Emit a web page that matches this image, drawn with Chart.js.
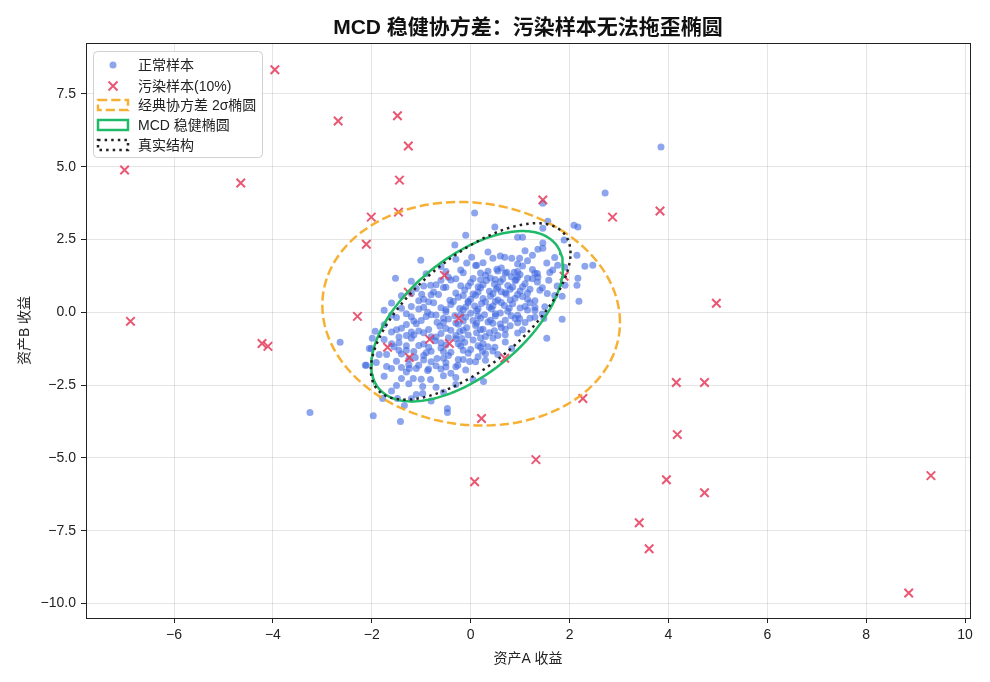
<!DOCTYPE html>
<html lang="zh">
<head>
  <meta charset="UTF-8" />
  <title>MCD 稳健协方差</title>
  <script src="https://cdn.jsdelivr.net/npm/chart.js"></script>
  <style>
    body { margin: 0; background: #fff; }
    #wrap { width: 990px; height: 682px; }
  </style>
</head>
<body>
  <div id="wrap"><canvas id="miCanvas" width="990" height="682"></canvas></div>

  <script>
    // tick labels
    const xTicks = [-6, -4, -2, 0, 2, 4, 6, 8, 10];
    const yTicks = [-10, -7.5, -5, -2.5, 0, 2.5, 5, 7.5];

    const seriesNames = ['正常样本', '污染样本(10%)', '经典协方差 2σ椭圆', 'MCD 稳健椭圆', '真实结构'];

    // normal samples [x, y]
    const normalPts = [
      [3.85, 5.68], [2.72, 4.1], [-3.25, -3.44], [-2.64, -1.03], [-2.05, -1.24], [-2.13, -1.82],
      [-1.01, 1.79], [-1.52, 1.17], [-0.81, 0.93], [-0.99, 0.62], [-0.87, 0.0],
      [0.08, 3.41], [0.49, 2.93], [-0.1, 2.65], [-0.32, 2.31], [0.95, 2.58], [1.05, 2.58],
      [0.69, 1.89], [0.83, 1.86], [0.99, 1.86], [0.02, 1.89], [-0.08, 1.69], [0.12, 1.62], [0.53, 1.48], [0.73, 1.38], [0.95, 1.2],
      [1.46, 3.75], [1.56, 3.13], [1.46, 2.89], [2.09, 2.99], [2.17, 2.93], [1.89, 2.48], [1.46, 2.38], [1.36, 2.17], [1.46, 2.2],
      [2.15, 1.96], [1.54, 1.69], [1.76, 1.62], [2.31, 1.58], [2.47, 1.62], [1.66, 1.45], [1.3, 1.34], [1.36, 1.2], [2.17, 1.17],
      [1.58, 1.1], [1.91, 0.93], [2.15, 0.93], [1.4, 0.76], [1.85, 0.55], [2.19, 0.38], [1.3, 0.17],
      [-1.93, -0.65], [-1.99, -0.89], [-2.01, -1.24], [-2.11, -1.82], [-1.91, -1.72], [-1.7, -1.86], [-1.85, -1.45], [-1.7, -1.45],
      [-1.4, -2.27], [-1.5, -2.51], [-1.16, -2.27], [-0.97, -2.55], [-0.81, -2.31], [-0.87, -2.0], [-1.24, -1.93], [-1.1, -1.93],
      [-1.78, -2.96], [-1.48, -2.96], [-1.34, -3.2], [-1.97, -3.55], [-1.42, -3.75], [-0.97, -2.79],
      [0.26, -2.38], [-0.47, -3.3], [-0.47, -3.44], [-0.02, -1.69], [-0.26, -1.82], [-0.3, -2.24], [0.24, -1.34], [0.49, -1.2],
      [0.83, -1.24], [0.99, -0.21], [1.48, -0.21], [1.85, -0.24], [1.54, -0.89],
      [0.35, 2.07], [0.6, 1.93], [1.1, 2.11], [1.25, 1.96],
      [-0.3, 1.82], [0.25, 1.7], [0.45, 1.86], [0.95, 1.66], [1.15, 1.77], [1.7, 1.88],
      [-0.6, 1.57], [-0.2, 1.45], [0.1, 1.61], [0.35, 1.41], [0.62, 1.52], [0.88, 1.38], [1.05, 1.59], [1.25, 1.47], [1.9, 1.55],
      [-0.9, 1.32], [-0.45, 1.2], [-0.15, 1.36], [0.05, 1.16], [0.3, 1.27], [0.5, 1.13], [0.7, 1.34], [0.82, 1.22], [1.0, 1.3], [1.15, 1.17], [1.6, 1.37],
      [-1.2, 1.07], [-0.7, 0.95], [-0.4, 1.11], [-0.2, 0.91], [0.0, 1.02], [0.15, 0.88], [0.32, 1.09], [0.48, 0.97], [0.6, 1.05],
      [0.75, 0.92], [0.92, 1.12], [1.1, 0.98], [1.35, 1.04], [1.75, 0.9],
      [-1.1, 0.82], [-0.75, 0.7], [-0.5, 0.86], [-0.3, 0.66], [-0.12, 0.77], [0.05, 0.63], [0.2, 0.84], [0.38, 0.72], [0.52, 0.8],
      [0.7, 0.67], [0.85, 0.87], [1.0, 0.73], [1.2, 0.79], [1.55, 0.65],
      [-1.4, 0.57], [-0.95, 0.45], [-0.65, 0.61], [-0.42, 0.41], [-0.25, 0.52], [-0.05, 0.38], [0.1, 0.59], [0.25, 0.47], [0.4, 0.55],
      [0.55, 0.42], [0.72, 0.62], [0.9, 0.48], [1.05, 0.54], [1.3, 0.4], [1.7, 0.58],
      [-1.6, 0.32], [-1.2, 0.2], [-0.85, 0.36], [-0.6, 0.16], [-0.4, 0.27], [-0.22, 0.13], [-0.05, 0.34], [0.08, 0.22], [0.22, 0.3],
      [0.38, 0.17], [0.5, 0.37], [0.68, 0.23], [0.85, 0.29], [1.0, 0.15], [1.2, 0.33], [1.5, 0.19],
      [-1.75, 0.07], [-1.3, -0.05], [-1.05, 0.11], [-0.7, -0.09], [-0.5, 0.02], [-0.32, -0.12], [-0.15, 0.09], [0.0, -0.03],
      [0.12, 0.05], [0.28, -0.08], [0.42, 0.12], [0.6, -0.02], [0.75, 0.04], [0.95, -0.1], [1.15, 0.08], [1.45, -0.06],
      [-1.5, -0.18], [-1.15, -0.3], [-0.9, -0.14], [-0.68, -0.34], [-0.45, -0.23], [-0.3, -0.37], [-0.1, -0.16], [0.05, -0.28],
      [0.2, -0.2], [0.35, -0.33], [0.5, -0.13], [0.7, -0.27], [0.9, -0.21], [1.1, -0.35], [1.3, -0.17],
      [-1.75, -0.43], [-1.4, -0.55], [-1.1, -0.39], [-0.85, -0.59], [-0.62, -0.48], [-0.4, -0.62], [-0.25, -0.41], [-0.08, -0.53],
      [0.1, -0.45], [0.25, -0.58], [0.45, -0.38], [0.62, -0.52], [0.8, -0.46], [1.05, -0.6],
      [-1.6, -0.68], [-1.3, -0.8], [-1.05, -0.64], [-0.8, -0.84], [-0.6, -0.73], [-0.45, -0.87], [-0.22, -0.66], [-0.05, -0.78],
      [0.12, -0.7], [0.3, -0.83], [0.48, -0.63], [0.7, -0.77], [0.95, -0.71],
      [-1.75, -0.93], [-1.45, -1.05], [-1.2, -0.89], [-0.95, -1.09], [-0.72, -0.98], [-0.5, -1.12], [-0.3, -0.91], [-0.12, -1.03],
      [0.05, -0.95], [0.25, -1.08], [0.45, -0.88], [0.7, -1.02],
      [-1.55, -1.18], [-1.3, -1.3], [-1.05, -1.14], [-0.8, -1.34], [-0.6, -1.23], [-0.4, -1.37], [-0.2, -1.16], [0.0, -1.28],
      [0.2, -1.2], [0.45, -1.33],
      [-1.4, -1.43], [-1.12, -1.55], [-0.9, -1.39], [-0.68, -1.59], [-0.45, -1.48], [-0.25, -1.62], [-0.05, -1.41], [0.15, -1.53], [0.55, -1.45],
      [-1.5, -1.68], [-1.25, -1.8], [-0.95, -1.64], [-0.7, -1.84], [-0.5, -1.73], [-0.3, -1.87], [0.1, -1.7],
      [-1.6, -1.93], [-1.3, -2.05], [-0.6, -1.95], [-0.4, -2.09], [-0.1, -1.98],
      [-1.75, -2.2], [-1.0, -2.3], [-0.55, -2.18], [0.05, -2.32],
      [-1.25, -2.45], [-0.7, -2.57], [-0.3, -2.48],
      [-1.6, -2.7], [-1.1, -2.82], [-0.55, -2.75],
      [-1.2, -2.97], [-0.8, -3.05],
      // denser core
      [-0.5, 1.4], [0.2, 1.35], [0.55, 1.42], [0.95, 1.4], [1.35, 1.33],
      [-0.6, 1.1], [-0.3, 1.15], [0.2, 1.12], [0.4, 1.18], [0.65, 1.14], [0.9, 1.08], [1.25, 1.15],
      [-0.95, 0.9], [-0.55, 0.85], [-0.05, 0.9], [0.25, 0.95], [0.55, 0.86], [0.8, 0.79], [1.05, 0.88], [1.45, 0.84],
      [-1.2, 0.65], [-0.8, 0.6], [-0.15, 0.58], [0.15, 0.7], [0.45, 0.64], [0.62, 0.71], [0.95, 0.61], [1.15, 0.66],
      [-1.05, 0.4], [-0.75, 0.33], [-0.35, 0.37], [0.0, 0.45], [0.3, 0.36], [0.62, 0.34], [0.8, 0.42], [1.15, 0.45],
      [-1.4, 0.14], [-0.95, 0.17], [-0.5, 0.1], [-0.1, 0.18], [0.15, 0.11], [0.45, 0.22], [0.78, 0.14], [1.1, 0.2], [1.3, 0.06],
      [-1.6, -0.1], [-1.2, -0.15], [-0.8, -0.08], [-0.55, -0.2], [-0.2, -0.08], [0.15, -0.13], [0.5, -0.05], [0.82, -0.12], [1.2, -0.2],
      [-1.3, -0.42], [-1.0, -0.28], [-0.55, -0.35], [-0.15, -0.3], [0.12, -0.38], [0.4, -0.27], [0.6, -0.4], [0.95, -0.36],
      [-1.5, -0.6], [-1.2, -0.68], [-0.95, -0.7], [-0.5, -0.56], [-0.15, -0.62], [0.2, -0.6], [0.38, -0.7], [0.7, -0.58],
      [-1.45, -0.85], [-1.15, -0.78], [-0.7, -0.85], [-0.3, -0.8], [-0.18, -0.9], [0.2, -0.88], [0.55, -0.8],
      [-1.6, -1.08], [-1.3, -1.15], [-0.85, -1.2], [-0.6, -1.05], [-0.25, -1.08], [0.15, -1.15], [0.35, -1.18],
      [-1.45, -1.3], [-1.15, -1.35], [-0.95, -1.48], [-0.55, -1.35], [-0.15, -1.3], [0.3, -1.42],
      [-1.25, -1.6], [-0.8, -1.7], [-0.55, -1.58], [-0.15, -1.62], [0.3, -1.65],
      [-1.4, -1.9], [-1.05, -1.82], [-0.85, -1.95], [-0.5, -1.88]
    ];

    // contaminated samples [x, y]
    const outlierPts = [
      [-7.0, 4.89], [-6.88, -0.31], [-3.96, 8.33], [-4.65, 4.44], [-2.68, 6.57], [-1.48, 6.75], [-1.26, 5.71], [-1.44, 4.54],
      [-1.46, 3.44], [-2.01, 3.27], [-2.11, 2.34], [-2.29, -0.14], [-4.22, -1.07], [-4.1, -1.17], [-1.68, -1.2], [-1.24, -1.55],
      [-0.83, -0.93], [-0.43, -1.07], [-0.53, 1.27], [-0.24, -0.21], [0.22, -3.65], [0.08, -5.82], [1.32, -5.06], [0.69, -1.58],
      [1.46, 3.86], [1.89, 1.24], [2.87, 3.27], [2.27, -2.96], [3.83, 3.48], [4.97, 0.31], [4.16, -2.41], [4.73, -2.41],
      [4.18, -4.2], [3.96, -5.75], [4.73, -6.2], [3.41, -7.23], [3.61, -8.12], [8.86, -9.64], [9.31, -5.61], [-1.26, 0.69]
    ];

    // ellipses: centre [x, y] and shape [sxx, sxy, syy] (already scaled to 2 sigma)
    const classicCenter = [0.01, -0.05];
    const classicShape = [9.06, -0.88, 14.75];
    const mcdCenter = [-0.07, -0.135];
    const mcdShape = [3.76, 3.27, 8.56];
    const trueCenter = [0.0, 0.03];
    const trueShape = [4.08, 4.04, 9.18];

    const FONT = '"Liberation Sans", "Noto Sans CJK SC", sans-serif';
    Chart.defaults.font.family = FONT;
    Chart.defaults.font.size = 14;
    Chart.defaults.color = '#222';

    function ellipseOutline(c, m) {
      const l11 = Math.sqrt(m[0]);
      const l21 = m[1] / l11;
      const l22 = Math.sqrt(m[2] - l21 * l21);
      const pts = [];
      for (let i = 0; i <= 180; i++) {
        const t = 2 * Math.PI * i / 180;
        pts.push({ x: c[0] + l11 * Math.cos(t), y: c[1] + l21 * Math.cos(t) + l22 * Math.sin(t) });
      }
      return pts;
    }

    const toXY = (arr) => arr.map(p => ({ x: p[0], y: p[1] }));
    const minus = (s) => s.replace('-', '\u2212');

    const colBlue = 'rgba(65,105,225,0.6)';
    const colRed = 'rgba(230,57,90,0.85)';
    const colOrange = 'rgba(245,168,30,0.9)';
    const colGreen = '#1fba68';
    const colBlack = '#222';

    const decor = {
      id: 'decor',
      afterDraw(chart) {
        const { ctx, chartArea: a } = chart;
        ctx.save();
        // frame
        ctx.strokeStyle = '#222';
        ctx.lineWidth = 1;
        ctx.strokeRect(Math.round(a.left) + 0.5, Math.round(a.top) + 0.5, Math.round(a.width), Math.round(a.height));

        // title and axis titles
        ctx.fillStyle = '#111';
        ctx.textAlign = 'center';
        ctx.textBaseline = 'middle';
        ctx.font = 'bold 21px ' + FONT;
        ctx.fillText('MCD 稳健协方差：污染样本无法拖歪椭圆', (a.left + a.right) / 2, 28);
        ctx.font = '14px ' + FONT;
        ctx.fillStyle = '#222';
        ctx.fillText('资产A 收益', (a.left + a.right) / 2, 659);
        ctx.save();
        ctx.translate(25, (a.top + a.bottom) / 2);
        ctx.rotate(-Math.PI / 2);
        ctx.fillText('资产B 收益', 0, 0);
        ctx.restore();

        // legend
        const lx = 93, ly = 51, lw = 169, lh = 106;
        ctx.beginPath();
        ctx.roundRect(lx + 0.5, ly + 0.5, lw, lh, 4);
        ctx.fillStyle = 'rgba(255,255,255,0.85)';
        ctx.fill();
        ctx.strokeStyle = '#d0d0d0';
        ctx.lineWidth = 1;
        ctx.stroke();

        const rows = [65, 86, 105, 125, 145];
        const mx = 113;
        // normal
        ctx.beginPath();
        ctx.arc(mx, rows[0], 3.5, 0, 2 * Math.PI);
        ctx.fillStyle = colBlue;
        ctx.fill();
        // contaminated
        ctx.strokeStyle = colRed;
        ctx.lineWidth = 2;
        ctx.beginPath();
        ctx.moveTo(mx - 4.5, rows[1] - 4.5); ctx.lineTo(mx + 4.5, rows[1] + 4.5);
        ctx.moveTo(mx + 4.5, rows[1] - 4.5); ctx.lineTo(mx - 4.5, rows[1] + 4.5);
        ctx.stroke();
        // ellipse patches
        const boxes = [
          [rows[2], colOrange, [9.25, 4]],
          [rows[3], colGreen, []],
          [rows[4], colBlack, [2.5, 4.1]]
        ];
        boxes.forEach(([y, c, dash]) => {
          ctx.strokeStyle = c;
          ctx.lineWidth = 2.5;
          ctx.setLineDash(dash);
          ctx.strokeRect(98, y - 5, 30, 10);
        });
        ctx.setLineDash([]);

        ctx.fillStyle = '#222';
        ctx.textAlign = 'left';
        ctx.font = '14px ' + FONT;
        seriesNames.forEach((n, i) => ctx.fillText(n, 138, rows[i] + 1));
        ctx.restore();
      }
    };

    const ctx = document.getElementById('miCanvas').getContext('2d');
    new Chart(ctx, {
      type: 'scatter',
      data: {
        datasets: [
          {
            label: seriesNames[0],
            data: toXY(normalPts),
            backgroundColor: colBlue,
            borderWidth: 0,
            pointRadius: 3.5,
            order: 5
          },
          {
            label: seriesNames[1],
            data: toXY(outlierPts),
            pointStyle: 'crossRot',
            borderColor: colRed,
            borderWidth: 2,
            pointRadius: 6,
            order: 4
          },
          {
            label: seriesNames[2],
            data: ellipseOutline(classicCenter, classicShape),
            showLine: true,
            borderColor: colOrange,
            borderWidth: 2.5,
            borderDash: [9.25, 4],
            pointRadius: 0,
            fill: false,
            order: 3
          },
          {
            label: seriesNames[3],
            data: ellipseOutline(mcdCenter, mcdShape),
            showLine: true,
            borderColor: colGreen,
            borderWidth: 2.5,
            pointRadius: 0,
            fill: false,
            order: 2
          },
          {
            label: seriesNames[4],
            data: ellipseOutline(trueCenter, trueShape),
            showLine: true,
            borderColor: colBlack,
            borderWidth: 2.5,
            borderDash: [2.5, 4.1],
            pointRadius: 0,
            fill: false,
            order: 1
          }
        ]
      },
      options: {
        responsive: false,
        animation: false,
        layout: { padding: { top: 43, right: 20, left: 0, bottom: 0 } },
        plugins: {
          legend: { display: false },
          title: { display: false },
          tooltip: { enabled: false }
        },
        scales: {
          x: {
            type: 'linear',
            min: -7.78,
            max: 10.1,
            afterFit: (s) => { s.height = 64; },
            afterBuildTicks: (s) => { s.ticks = xTicks.map(v => ({ value: v })); },
            ticks: {
              autoSkip: false,
              maxRotation: 0,
              padding: 4,
              color: '#222',
              font: { size: 14 },
              callback: (v) => minus(String(v))
            },
            grid: { color: 'rgba(0,0,0,0.1)', tickColor: '#222', tickLength: 5 },
            border: { display: false }
          },
          y: {
            type: 'linear',
            min: -10.5,
            max: 9.25,
            afterFit: (s) => { s.width = 86; },
            afterBuildTicks: (s) => { s.ticks = yTicks.map(v => ({ value: v })); },
            ticks: {
              autoSkip: false,
              padding: 5,
              color: '#222',
              font: { size: 14 },
              callback: (v) => minus(v.toFixed(1))
            },
            grid: { color: 'rgba(0,0,0,0.1)', tickColor: '#222', tickLength: 5 },
            border: { display: false }
          }
        }
      },
      plugins: [decor]
    });
  </script>
</body>
</html>
